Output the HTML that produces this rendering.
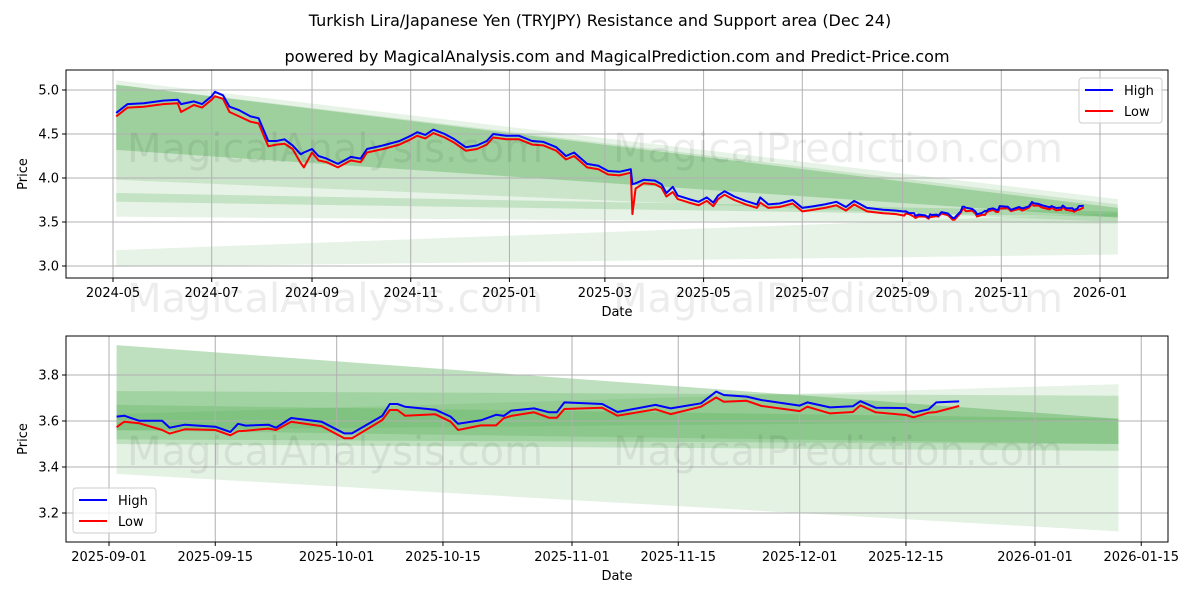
<!DOCTYPE html>
<html><head><meta charset="utf-8"><style>
body{margin:0;background:#fff}
svg{display:block;font-family:"DejaVu Sans","Liberation Sans",sans-serif}
</style></head><body>
<svg id="chart" width="1200" height="600" viewBox="0 0 1200 600">
<rect width="1200" height="600" fill="#fff"/>
<text x="600" y="26" text-anchor="middle" font-size="16">Turkish Lira/Japanese Yen (TRYJPY) Resistance and Support area (Dec 24)</text>
<text x="617" y="62" text-anchor="middle" font-size="16">powered by MagicalAnalysis.com and MagicalPrediction.com and Predict-Price.com</text>
<g id="top"></g>
<g id="bot"></g>
</svg>
<script>
// ---- data ----
const topDates=["2024-05-03","2024-05-10","2024-05-20","2024-06-01","2024-06-10","2024-06-12","2024-06-20","2024-06-25","2024-07-01","2024-07-03","2024-07-08","2024-07-12","2024-07-18","2024-07-25","2024-07-30","2024-08-05","2024-08-10","2024-08-15","2024-08-20","2024-08-25","2024-08-27","2024-09-01","2024-09-05","2024-09-10","2024-09-17","2024-09-25","2024-10-01","2024-10-05","2024-10-15","2024-10-25","2024-11-01","2024-11-05","2024-11-10","2024-11-15","2024-11-22","2024-11-28","2024-12-05","2024-12-12","2024-12-18","2024-12-22","2024-12-30","2025-01-07","2025-01-15","2025-01-22","2025-01-30","2025-02-05","2025-02-10","2025-02-18","2025-02-25","2025-03-03","2025-03-10","2025-03-17","2025-03-18","2025-03-20","2025-03-25","2025-04-01","2025-04-05","2025-04-08","2025-04-12","2025-04-15","2025-04-22","2025-04-28","2025-05-03","2025-05-07","2025-05-10","2025-05-14","2025-05-20","2025-05-27","2025-06-03","2025-06-05","2025-06-10","2025-06-17","2025-06-25","2025-07-01","2025-07-08","2025-07-15","2025-07-22","2025-07-28","2025-08-02","2025-08-10","2025-08-20","2025-08-28"];
const topHigh=[4.74,4.84,4.85,4.88,4.89,4.84,4.87,4.84,4.93,4.98,4.94,4.81,4.77,4.70,4.68,4.42,4.42,4.44,4.37,4.27,4.29,4.33,4.25,4.22,4.16,4.24,4.22,4.33,4.37,4.42,4.48,4.52,4.49,4.55,4.50,4.44,4.35,4.37,4.42,4.50,4.48,4.48,4.42,4.41,4.35,4.25,4.29,4.16,4.14,4.08,4.07,4.10,3.93,3.94,3.98,3.97,3.93,3.83,3.90,3.80,3.76,3.73,3.78,3.72,3.80,3.85,3.79,3.74,3.70,3.78,3.70,3.71,3.75,3.66,3.68,3.70,3.73,3.67,3.74,3.66,3.64,3.63];
const topLow=[4.70,4.80,4.81,4.84,4.85,4.75,4.83,4.80,4.89,4.93,4.90,4.75,4.70,4.64,4.62,4.36,4.38,4.39,4.33,4.17,4.12,4.29,4.20,4.18,4.12,4.20,4.18,4.29,4.33,4.38,4.44,4.48,4.45,4.51,4.46,4.40,4.31,4.33,4.38,4.46,4.44,4.44,4.38,4.37,4.31,4.21,4.25,4.12,4.10,4.04,4.03,4.06,3.59,3.88,3.94,3.93,3.89,3.79,3.84,3.76,3.72,3.69,3.74,3.68,3.76,3.81,3.75,3.70,3.66,3.72,3.66,3.67,3.71,3.62,3.64,3.66,3.69,3.63,3.70,3.62,3.60,3.59];
const botDates=["2025-09-02","2025-09-03","2025-09-05","2025-09-08","2025-09-09","2025-09-11","2025-09-15","2025-09-17","2025-09-18","2025-09-19","2025-09-22","2025-09-23","2025-09-25","2025-09-29","2025-10-02","2025-10-03","2025-10-07","2025-10-08","2025-10-09","2025-10-10","2025-10-14","2025-10-16","2025-10-17","2025-10-20","2025-10-22","2025-10-23","2025-10-24","2025-10-27","2025-10-29","2025-10-30","2025-10-31","2025-11-05","2025-11-07","2025-11-12","2025-11-14","2025-11-18","2025-11-20","2025-11-21","2025-11-24","2025-11-26","2025-12-01","2025-12-02","2025-12-05","2025-12-08","2025-12-09","2025-12-11","2025-12-15","2025-12-16","2025-12-18","2025-12-19","2025-12-22"];
const botHigh=[3.619,3.623,3.601,3.601,3.571,3.584,3.575,3.552,3.588,3.580,3.584,3.571,3.613,3.597,3.546,3.546,3.622,3.674,3.674,3.662,3.649,3.619,3.588,3.603,3.627,3.622,3.645,3.655,3.638,3.638,3.681,3.674,3.639,3.670,3.655,3.677,3.728,3.713,3.706,3.691,3.667,3.681,3.659,3.664,3.686,3.658,3.656,3.636,3.651,3.681,3.685];
const botLow=[3.573,3.597,3.590,3.561,3.545,3.564,3.561,3.538,3.555,3.558,3.567,3.561,3.597,3.578,3.525,3.525,3.604,3.648,3.648,3.623,3.629,3.597,3.561,3.581,3.581,3.612,3.622,3.638,3.614,3.614,3.652,3.658,3.623,3.651,3.630,3.662,3.702,3.684,3.688,3.665,3.643,3.662,3.633,3.639,3.668,3.638,3.626,3.616,3.636,3.639,3.665];
// bands: [startTop,startBottom,endTop,endBottom,opacity]
const topBands=[[5.11,3.56,3.76,3.48,0.12],[5.06,3.98,3.70,3.50,0.15],[5.06,4.32,3.66,3.55,0.28],[3.83,3.73,3.62,3.56,0.18],[3.18,2.99,3.60,3.13,0.12]];
const botBands=[[3.93,3.37,3.61,3.12,0.13],[3.93,3.52,3.61,3.50,0.2],[3.73,3.50,3.71,3.47,0.2],[3.63,3.56,3.76,3.60,0.12],[3.67,3.56,3.61,3.50,0.18]];
const bandStart="2024-05-03", bandEnd="2026-01-12";
const botBandStart="2025-09-02";
const topYTicks=[3.0,3.5,4.0,4.5,5.0];
const topXTicks=["2024-05","2024-07","2024-09","2024-11","2025-01","2025-03","2025-05","2025-07","2025-09","2025-11","2026-01"];
const botYTicks=[3.2,3.4,3.6,3.8];
const botXTicks=["2025-09-01","2025-09-15","2025-10-01","2025-10-15","2025-11-01","2025-11-15","2025-12-01","2025-12-15","2026-01-01","2026-01-15"];

const NS="http://www.w3.org/2000/svg";
function day(s){if(s.length===7)s+="-01";return Date.parse(s+"T00:00:00Z")/864e5;}
function mk(p,t,a){const e=document.createElementNS(NS,t);for(const k in a)e.setAttribute(k,a[k]);p.appendChild(e);return e;}

function panel(g,cfg){
  const {L,R,T,B,xs,ys}=cfg;
  cfg.bands.forEach((b,i)=>{
    const x0=xs(day(cfg.bs)),x1=xs(day(bandEnd));
    const p=mk(g,"polygon",{points:`${x0},${ys(b[0])} ${x1},${ys(b[2])} ${x1},${ys(b[3])} ${x0},${ys(b[1])}`,fill:"#2e9a2e","fill-opacity":b[4]});
    
    
  });
  cfg.yt.forEach(v=>{
    const y=ys(v);
    const l=mk(g,"line",{x1:L,x2:R,y1:y,y2:y,stroke:"#b0b0b0","stroke-width":1});
    
    
    mk(g,"line",{x1:L-4,x2:L,y1:y,y2:y,stroke:"#000"});
    const t=mk(g,"text",{x:L-7,y:y+4.5,"text-anchor":"end","font-size":13});
    t.textContent=v.toFixed(1);
    
    
  });
  cfg.xt.forEach(s=>{
    const x=xs(day(s));
    const l=mk(g,"line",{x1:x,x2:x,y1:T,y2:B,stroke:"#b0b0b0","stroke-width":1});
    
    
    mk(g,"line",{x1:x,x2:x,y1:B,y2:B+4,stroke:"#000"});
    const t=mk(g,"text",{x:x,y:B+19,"text-anchor":"middle","font-size":13});
    t.textContent=s;
    
    
  });
  [[cfg.hi,"#0000ff","high-line"],[cfg.lo,"#ff0000","low-line"]].reverse().forEach(([arr,c,n])=>{
    const pts=cfg.dates.map((d,i)=>xs(day(d)).toFixed(1)+","+ys(arr[i]).toFixed(1)).join(" ");
    const pl=mk(g,"polyline",{points:pts,fill:"none",stroke:c,"stroke-width":2,"stroke-linejoin":"round"});
    
    
  });
  mk(g,"rect",{x:L,y:T,width:R-L,height:B-T,fill:"none",stroke:"#000","stroke-width":1});
  const xl=mk(g,"text",{x:(L+R)/2,y:B+38,"text-anchor":"middle","font-size":13});
  xl.textContent="Date";
  
  
  const yl=mk(g,"text",{x:0,y:0,"text-anchor":"middle","font-size":13,transform:`translate(27,${(T+B)/2}) rotate(-90)`});
  yl.textContent="Price";
  
  
  const lx=cfg.lx,ly=cfg.ly;
  const lg=mk(g,"g",{});
  
  
  mk(lg,"rect",{x:lx,y:ly,width:83,height:45,rx:3,fill:"#fff","fill-opacity":0.8,stroke:"#ccc"});
  [["High","#0000ff"],["Low","#ff0000"]].forEach(([n,c],i)=>{
    const yy=ly+12+i*21;
    mk(lg,"line",{x1:lx+6,x2:lx+34,y1:yy,y2:yy,stroke:c,"stroke-width":2});
    const t=mk(lg,"text",{x:lx+45,y:yy+5,"font-size":13});
    t.textContent=n;
    
    
  });
}
const tg=document.getElementById("top"),bg=document.getElementById("bot");
const t0=day("2024-05-01"),b0=day("2025-09-01");
panel(tg,{L:66,R:1168,T:70,B:278,xs:d=>113+(d-t0)*987/610,ys:v=>90+(5-v)*88,bands:topBands,bs:bandStart,
  yt:topYTicks,xt:topXTicks,dates:topDates.concat(botDates),hi:topHigh.concat(botHigh),lo:topLow.concat(botLow),lx:1079,ly:78});
panel(bg,{L:66,R:1168,T:336,B:542,xs:d=>109+(d-b0)*7.59,ys:v=>375+(3.8-v)*230,bands:botBands,bs:botBandStart,
  yt:botYTicks,xt:botXTicks,dates:botDates,hi:botHigh,lo:botLow,lx:73,ly:488});
const svg=document.getElementById("chart");
[["MagicalAnalysis.com",335,162],["MagicalPrediction.com",838,162],["MagicalAnalysis.com",335,312],["MagicalPrediction.com",838,312],["MagicalAnalysis.com",335,465],["MagicalPrediction.com",838,465]].forEach(([s,x,y])=>{
  const t=mk(svg,"text",{x:x,y:y,"text-anchor":"middle","font-size":40,fill:"#000","fill-opacity":0.07});
  t.textContent=s;
  
  
});
</script>
</body></html>
